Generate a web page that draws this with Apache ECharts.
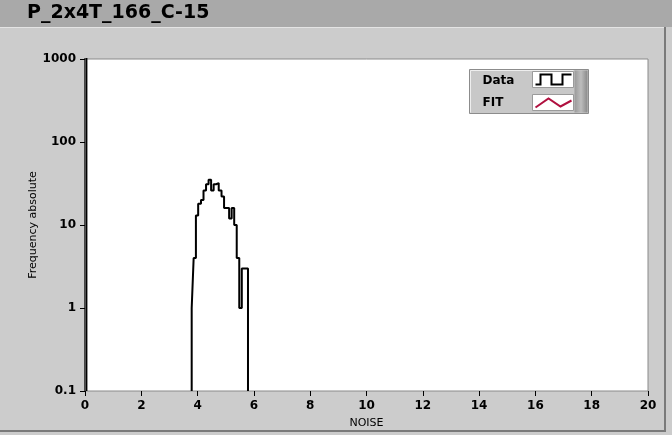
<!DOCTYPE html>
<html>
<head>
<meta charset="utf-8">
<script src="https://cdn.jsdelivr.net/npm/echarts@6/dist/echarts.min.js"></script>
<style>
  html, body { margin: 0; padding: 0; background: #cccccc; }
  #chart { width: 672px; height: 435px; }
</style>
</head>
<body>
<div id="chart"></div>
<script>
// histogram of NOISE, bin edges (n+1) and counts (n)
const binEdges = [3.79, 3.86, 3.94, 4.02, 4.12, 4.21, 4.30, 4.39, 4.48, 4.57, 4.66,
                  4.75, 4.85, 4.94, 5.03, 5.12, 5.21, 5.30, 5.39, 5.48, 5.57, 5.79]
const binCounts = [1, 4, 13, 18, 20, 26, 31, 35, 26, 31, 32,
                   26, 22, 16, 16, 12, 16, 10, 4, 1, 3]
// the dead-channel bin at noise ~0, far above the 1000 limit
const zeroEdges = [-0.05, 0.05]
const zeroCounts = [2500]

const xTicks = { min: 0, max: 20, step: 2 }
const yTicks = [0.1, 1, 10, 100, 1000]
const legendNames = ['Data', 'FIT']

const floor = yTicks[0]

function stepPoints(edges, counts) {
  const pts = [[edges[0], floor]]
  counts.forEach((c, i) => {
    pts.push([edges[i], c])
    pts.push([edges[i + 1], c])
  })
  pts.push([edges[edges.length - 1], floor])
  return pts
}

const chart = echarts.init(document.getElementById('chart'), null, { renderer: 'canvas' })

const font = 'DejaVu Sans'

chart.setOption({
  animation: false,
  backgroundColor: '#cccccc',
  grid: {
    left: 85, right: 24, top: 59, bottom: 44,
    show: true, backgroundColor: '#ffffff', borderColor: '#8a8a8a', borderWidth: 1
  },
  xAxis: {
    type: 'value',
    min: xTicks.min, max: xTicks.max, interval: xTicks.step,
    name: 'NOISE', nameLocation: 'middle', nameGap: 27,
    nameTextStyle: { fontFamily: font, fontSize: 11, color: '#000' },
    axisLine: { show: false },
    axisTick: { show: true, length: 5, lineStyle: { color: '#000' } },
    axisLabel: { fontFamily: font, fontSize: 12, fontWeight: 'bold', color: '#000', margin: 9 },
    splitLine: { show: false }
  },
  yAxis: {
    type: 'log', logBase: 10,
    min: yTicks[0], max: yTicks[yTicks.length - 1],
    name: 'Frequency absolute', nameLocation: 'middle', nameGap: 46, nameRotate: 90,
    nameMoveOverlap: false,
    nameTextStyle: { fontFamily: font, fontSize: 11, color: '#000' },
    axisLine: { show: false },
    axisTick: { show: true, length: 5, lineStyle: { color: '#000' } },
    axisLabel: {
      fontFamily: font, fontSize: 12, fontWeight: 'bold', color: '#000', margin: 9,
      formatter: v => String(Math.round(v * 10) / 10)
    },
    splitLine: { show: false }
  },
  series: [
    {
      name: 'Data', type: 'line', clip: true, showSymbol: false, silent: true,
      lineStyle: { color: '#000', width: 2 },
      data: stepPoints(binEdges, binCounts)
    },
    {
      name: 'Data', type: 'line', clip: true, showSymbol: false, silent: true,
      lineStyle: { color: '#000', width: 2 },
      data: stepPoints(zeroEdges, zeroCounts)
    }
  ],
  graphic: [
    // title bar
    { type: 'rect', z: -10, shape: { x: 0, y: 0, width: 672, height: 27 }, style: { fill: '#a9a9a9' } },
    { type: 'line', shape: { x1: 0, y1: 27.5, x2: 666, y2: 27.5 }, style: { stroke: '#e4e4e4', lineWidth: 1 } },
    { type: 'line', shape: { x1: 665, y1: 27, x2: 665, y2: 432 }, style: { stroke: '#7a7a7a', lineWidth: 2 } },
    { type: 'line', shape: { x1: 0, y1: 431, x2: 666, y2: 431 }, style: { stroke: '#7a7a7a', lineWidth: 2 } },
    {
      type: 'text', left: 27, top: 4,
      style: { text: 'P_2x4T_166_C-15', font: 'bold 19px "DejaVu Sans"', fill: '#000' }
    },
    // legend
    {
      type: 'group', left: 468, top: 68,
      children: [
        { type: 'rect', shape: { x: 0, y: 0, width: 119, height: 44 }, style: { fill: '#c8c8c8', stroke: '#8c8c8c', lineWidth: 1 } },
        { type: 'line', shape: { x1: 1, y1: 1, x2: 104, y2: 1 }, style: { stroke: '#eeeeee', lineWidth: 1 } },
        { type: 'line', shape: { x1: 1, y1: 1, x2: 1, y2: 43 }, style: { stroke: '#eeeeee', lineWidth: 1 } },
        {
          type: 'rect', shape: { x: 105, y: 1, width: 13, height: 42 },
          style: {
            fill: new echarts.graphic.LinearGradient(0, 0, 1, 0, [
              { offset: 0, color: '#9a9a9a' },
              { offset: 0.5, color: '#bdbdbd' },
              { offset: 1, color: '#8a8a8a' }
            ])
          }
        },
        { type: 'text', x: 13, y: 11, style: { text: legendNames[0], font: 'bold 12px "DejaVu Sans"', fill: '#000', verticalAlign: 'middle' } },
        { type: 'text', x: 13, y: 33, style: { text: legendNames[1], font: 'bold 12px "DejaVu Sans"', fill: '#000', verticalAlign: 'middle' } },
        { type: 'rect', shape: { x: 63, y: 2, width: 41, height: 16 }, style: { fill: '#fff', stroke: '#9a9a9a', lineWidth: 1 } },
        { type: 'rect', shape: { x: 63, y: 25, width: 41, height: 16 }, style: { fill: '#fff', stroke: '#9a9a9a', lineWidth: 1 } },
        {
          type: 'polyline',
          shape: { points: [[66, 15], [71, 15], [71, 5], [82, 5], [82, 15], [93, 15], [93, 5], [102, 5]] },
          style: { stroke: '#000', lineWidth: 2, fill: null }
        },
        {
          type: 'polyline',
          shape: { points: [[66, 38], [79, 29], [91, 37], [102, 31]] },
          style: { stroke: '#b0103f', lineWidth: 2, fill: null }
        }
      ]
    }
  ]
})
</script>
</body>
</html>
